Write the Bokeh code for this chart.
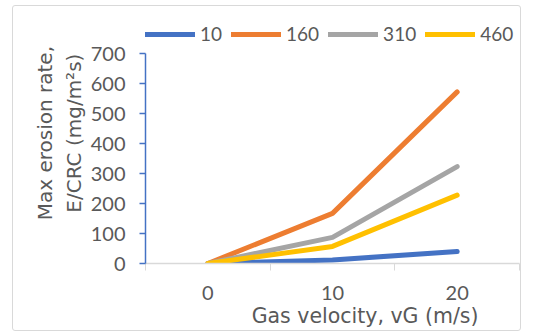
from bokeh.plotting import figure
from bokeh.models import Range1d, FixedTicker, Legend, LegendItem, InlineStyleSheet
from bokeh.embed import file_html
from bokeh.resources import INLINE

categories = ["0", "10", "20"]
series_names = ["10", "160", "310", "460"]
s10 = [0, 12, 40]
s160 = [0, 167, 572]
s310 = [0, 87, 323]
s460 = [0, 57, 228]
colors = ["#4472C4", "#ED7D31", "#A5A5A5", "#FFC000"]
y_ticks = [0, 100, 200, 300, 400, 500, 600, 700]
y_max = 700
x_title = "Gas velocity, vG (m/s)"
y_title_lines = ["Max erosion rate,", "E/CRC (mg/m\u00b2s)"]

FONT = "Lato"
TFONT = "DejaVu Sans"
TXT = "#595959"
NB = "\u00a0"

# frame: left 145, right 519, top 15, bottom 263; value area of reference: y 53..263
n = len(categories)
y_end = y_max * (263 - 15) / (263 - 53)

p = figure(width=542, height=331, output_backend="svg", toolbar_location=None,
           x_range=Range1d(-0.5, n - 0.5), y_range=Range1d(0, y_end),
           min_border_left=145, min_border_right=23, min_border_top=15, min_border_bottom=68)
p.stylesheets = [InlineStyleSheet(css=":host::after { content: ''; position: absolute; left: 12px; top: 5px; "
                                      "width: 509px; height: 326px; box-sizing: border-box; "
                                      "border: 1.5px solid #D9D9D9; border-radius: 3px; pointer-events: none; }")]
p.outline_line_color = None
p.xgrid.visible = False
p.ygrid.visible = False

xs = list(range(n))
items = []
for name, vals, c in zip(series_names, [s10, s160, s310, s460], colors):
    r = p.line(xs, vals, line_color=c, line_width=5, line_cap="round", line_join="round")
    items.append(LegendItem(label=name, renderers=[r]))

# x axis
xa = p.xaxis[0]
xa.ticker = FixedTicker(ticks=xs, minor_ticks=[i - 0.5 for i in range(n + 1)])
xa.major_label_overrides = {i: c for i, c in enumerate(categories)}
xa.major_tick_line_color = None
xa.major_tick_out = 0
xa.major_tick_in = 0
xa.minor_tick_out = 7
xa.minor_tick_in = 0
xa.minor_tick_line_color = "#D9D9D9"
xa.axis_line_color = "#D9D9D9"
xa.axis_line_width = 1.5
xa.major_label_standoff = 15
xa.major_label_text_font = FONT
xa.major_label_text_font_size = "20px"
xa.major_label_text_color = TXT
xa.axis_label = NB * 10 + x_title
xa.axis_label_text_font = TFONT
xa.axis_label_text_font_size = "20.5px"
xa.axis_label_text_font_style = "normal"
xa.axis_label_text_color = TXT
xa.axis_label_standoff = 1

# y axis
ya = p.yaxis[0]
ya.bounds = (0, y_max)
ya.ticker = FixedTicker(ticks=y_ticks, minor_ticks=[])
ya.axis_line_color = "#4472C4"
ya.axis_line_width = 1.5
ya.major_tick_line_color = "#4472C4"
ya.major_tick_line_width = 1.5
ya.major_tick_out = 6
ya.major_tick_in = 0
ya.minor_tick_line_color = None
ya.major_label_standoff = 14
ya.major_label_text_font = FONT
ya.major_label_text_font_size = "20px"
ya.major_label_text_color = TXT
ya.axis_label = "\n".join(NB * 2 + t for t in y_title_lines)
ya.axis_label_text_font = TFONT
ya.axis_label_text_font_size = "20px"
ya.axis_label_text_font_style = "normal"
ya.axis_label_text_color = TXT
ya.axis_label_standoff = 2

legend = Legend(items=items, orientation="horizontal", location=(0, 218),
                glyph_width=50, glyph_height=20, label_text_font=FONT,
                label_text_font_size="19px", label_text_color=TXT,
                label_standoff=5, spacing=9, padding=0, margin=0,
                border_line_color=None, background_fill_alpha=0)
p.add_layout(legend, "center")

open("out.html", "w").write(file_html(p, INLINE))
